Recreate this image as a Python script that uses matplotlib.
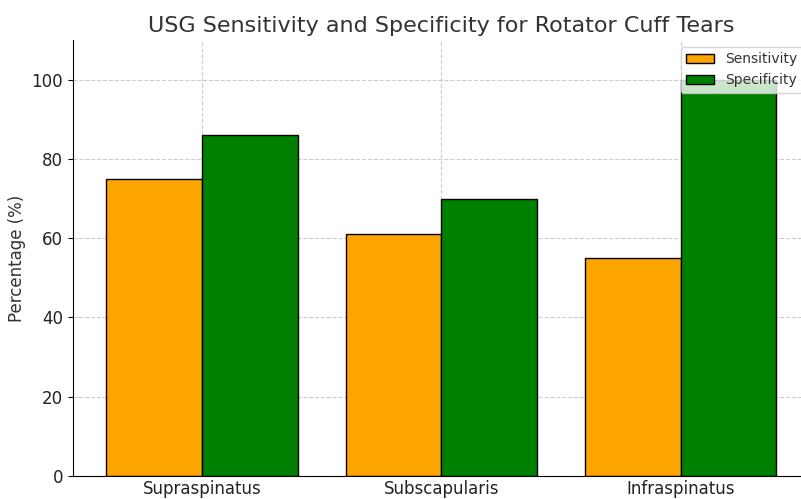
import numpy as np
import matplotlib
matplotlib.use("Agg")
import matplotlib.pyplot as plt

# Sensitivity / specificity of ultrasound per tendon (%)
tendons = ["Supraspinatus", "Subscapularis", "Infraspinatus"]
sensitivity = [75, 61, 55]
specificity = [86, 70, 100]

x = np.arange(len(tendons))
width = 0.4

fig = plt.figure(figsize=(8.01, 4.99), dpi=100)
ax = fig.add_axes([0.0911, 0.046, 0.92, 0.874])

ax.bar(x - width / 2, sensitivity, width, color="orange", edgecolor="black", label="Sensitivity")
ax.bar(x + width / 2, specificity, width, color="green", edgecolor="black", label="Specificity")

ax.set_xticks(x)
ax.set_xticklabels(tendons, fontsize=12, color="#222222")
ax.tick_params(axis="x", length=0, pad=3)
ax.tick_params(axis="y", labelsize=12, labelcolor="#222222")
ax.set_ylim(0, 110)
ax.set_xlim(-0.54, 2.54)
ax.set_ylabel("Percentage (%)", fontsize=12, color="#333333")
ax.set_title("USG Sensitivity and Specificity for Rotator Cuff Tears", fontsize=16, color="#333333")

ax.grid(True, linestyle="--", color="#cccccc", linewidth=0.8)
ax.set_axisbelow(True)
for side in ["top", "right"]:
    ax.spines[side].set_visible(False)

leg = ax.legend(loc="upper right", bbox_to_anchor=(1.0, 1.0), fontsize=10)
for t in leg.get_texts():
    t.set_color("#333333")

fig.savefig("out.png", dpi=100)
